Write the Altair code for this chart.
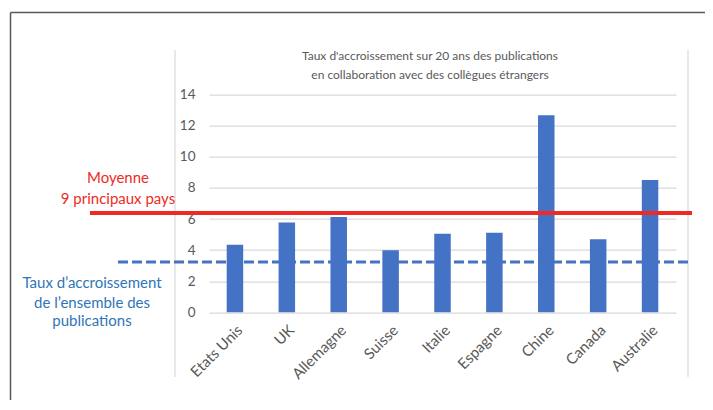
import altair as alt
import pandas as pd

countries = ["Etats Unis", "UK", "Allemagne", "Suisse", "Italie", "Espagne", "Chine", "Canada", "Australie"]
values = [4.35, 5.77, 6.13, 3.99, 5.06, 5.12, 12.67, 4.70, 8.51]
mean_9 = 6.39
overall = 3.24
y_ticks = [0, 2, 4, 6, 8, 10, 12, 14]
title_lines = ["Taux d'accroissement sur 20 ans des publications", "en collaboration avec des collègues étrangers"]
red_lines = ["Moyenne", "9 principaux pays"]
blue_lines = ["Taux d\u2019accroissement", "de l\u2019ensemble des", "publications"]

FONT = "Lato"
W, H = 467, 217.6

df = pd.DataFrame({"pays": countries, "val": values})

y_axis = alt.Axis(values=y_ticks, labelFont=FONT, labelFontSize=13.5, labelOverlap=False,
                  labelColor="#595959", domain=False, ticks=False, labelPadding=14,
                  gridColor="#d9d9d9", gridWidth=1.2, title=None)
y_scale = alt.Scale(domain=[0, 14], nice=False)

bars = alt.Chart(df).mark_bar(color="#4472c4", width=16.5).encode(
    x=alt.X("pays:N", sort=countries, title=None,
            scale=alt.Scale(paddingInner=0.68, paddingOuter=0.34),
            axis=alt.Axis(labelAngle=-45, labelFont=FONT, labelFontSize=15, labelColor="#595959",
                          domain=False, ticks=False, labelPadding=10, grid=False,
                          labelOverlap=False)),
    y=alt.Y("val:Q", title=None, scale=y_scale, axis=y_axis),
)

def vline(x, y1, y2, color, w):
    return alt.Chart(pd.DataFrame({"a": [0]})).mark_rule(color=color, strokeWidth=w).encode(
        x=alt.value(x), y=alt.value(y1), y2=alt.value(y2))

def hline(y, x1, x2, color, w):
    return alt.Chart(pd.DataFrame({"a": [0]})).mark_rule(color=color, strokeWidth=w).encode(
        y=alt.value(y), x=alt.value(x1), x2=alt.value(x2))

frame = vline(-198.5, -82.2, 400, "#595959", 1.5) + hline(-82.2, -198.5, 700, "#595959", 1.5)
box = vline(-34, -44.7, 282.3, "#d9d9d9", 1.2) + vline(479, -44.7, 282.3, "#d9d9d9", 1.2)

red = alt.Chart(pd.DataFrame({"val": [mean_9]})).mark_rule(color="#ee2a24", strokeWidth=4).encode(
    y=alt.Y("val:Q", title=None, scale=y_scale, axis=y_axis), x=alt.value(-119), x2=alt.value(483))
blue = alt.Chart(pd.DataFrame({"val": [overall]})).mark_rule(
    color="#4472c4", strokeWidth=3, strokeDash=[10, 4]).encode(
    y=alt.Y("val:Q", title=None, scale=y_scale, axis=y_axis), x=alt.value(-91), x2=alt.value(483))

def texts(lines, x, ys, color, size):
    d = pd.DataFrame({"t": lines, "py": ys})
    return alt.Chart(d).mark_text(font=FONT, fontSize=size, color=color, align="center",
                                  baseline="middle").encode(
        text="t:N", x=alt.value(x), y=alt.Y("py:Q", scale=None))

title = texts(title_lines, 221, [-38.7, -19.7], "#595959", 12)
red_t = texts(red_lines, -91, [83.3, 104.3], "#ee2a24", 15)
blue_t = texts(blue_lines, -117, [188, 208, 226.3], "#2e75b6", 15)

chart = alt.layer(frame, box, bars, red, blue, title, red_t, blue_t).properties(
    width=W, height=H,
    autosize=alt.AutoSizeParams(type="none"),
    padding={"left": 201, "top": 86.7, "right": 29, "bottom": 88},
).configure(background="white").configure_view(stroke=None)

chart.save("out.html", embed_options={"renderer": "svg", "actions": False})
